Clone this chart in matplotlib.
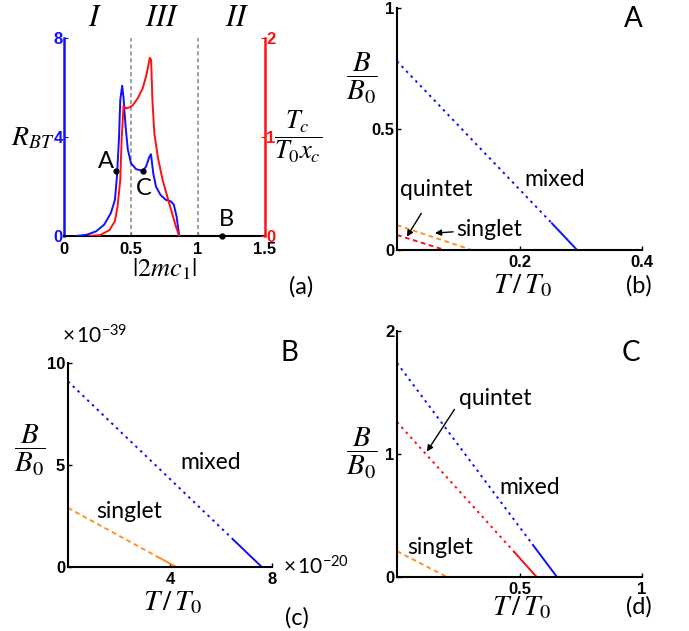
import numpy as np
import matplotlib
matplotlib.use("Agg")
import matplotlib.pyplot as plt

plt.rcParams['font.family'] = ['Lato', 'DejaVu Sans']
plt.rcParams['mathtext.fontset'] = 'stix'
plt.rcParams['lines.scale_dashes'] = False

BLUE = '#1010ff'
RED = '#ff1010'
ORANGE = '#ff9020'

# ---- panel (a) data ----
mc_blue = [0.09, 0.17, 0.24, 0.30, 0.35, 0.38, 0.395, 0.41, 0.42, 0.434, 0.444, 0.46, 0.476,
           0.50, 0.538, 0.587, 0.612, 0.637, 0.649, 0.666, 0.686, 0.72, 0.76, 0.797, 0.82,
           0.84, 0.86]
r_bt = [0.0, 0.05, 0.19, 0.46, 0.93, 1.46, 2.4, 3.9, 5.5, 6.07, 5.6, 4.4, 3.5,
        2.94, 2.7, 2.63, 2.8, 3.2, 3.3, 2.54, 2.0, 1.66, 1.46, 1.40, 1.26,
        0.79, 0.0]
mc_red = [0.19, 0.27, 0.34, 0.38, 0.40, 0.42, 0.43, 0.444, 0.464, 0.49, 0.513, 0.55, 0.587,
          0.612, 0.632, 0.64, 0.65, 0.66, 0.674, 0.70, 0.735, 0.785, 0.834, 0.86]
tc_ratio = [0.0, 0.01, 0.06, 0.15, 0.30, 0.57, 0.97, 1.31, 1.29, 1.30, 1.32, 1.39, 1.49,
            1.61, 1.74, 1.80, 1.78, 1.37, 1.04, 0.80, 0.57, 0.33, 0.10, 0.0]
region_bounds = [0.5, 1.0]
point_names = ['A', 'C', 'B']
point_x = [0.39, 0.587, 1.18]
point_y = [2.63, 2.63, 0.0]

# ---- panel (b): point A ----
b_mixed_T = [0, 0.253, 0.294]
b_mixed_B = [0.78, 0.11, 0.0]
b_singlet_T = [0, 0.122]
b_singlet_B = [0.103, 0.0]
b_quintet_T = [0, 0.078]
b_quintet_B = [0.062, 0.0]

# ---- panel (c): point B (T in 1e-2, B in 1e-39) ----
c_mixed_T = [0, 6.5, 7.6]
c_mixed_B = [9.1, 1.32, 0.0]
c_singlet_T = [0, 3.6, 4.25]
c_singlet_B = [2.9, 0.44, 0.0]

# ---- panel (d): point C ----
d_mixed_T = [0, 0.555, 0.653]
d_mixed_B = [1.74, 0.26, 0.0]
d_quintet_T = [0, 0.48, 0.57]
d_quintet_B = [1.26, 0.2, 0.0]
d_singlet_T = [0, 0.204]
d_singlet_B = [0.21, 0.0]

DOT = (0, (1.8, 3.0))
DASH = (0, (3.4, 2.6))
LBL = 16.5      # mixed / singlet / quintet
PANEL = 20      # A, B, C letters
TICK = 12

W, H = 689, 631
fig = plt.figure(figsize=(W / 100, H / 100), dpi=100)


def px_axes(x0, y0, x1, y1):
    return fig.add_axes([x0 / W, 1 - y1 / H, (x1 - x0) / W, (y1 - y0) / H])


def ftext(x, y, s, **kw):
    kw.setdefault('ha', 'center')
    kw.setdefault('va', 'center')
    fig.text(x / W, 1 - y / H, s, **kw)


def style_axes(ax, xt, xl, yt, yl):
    for s in ['top', 'right']:
        ax.spines[s].set_visible(False)
    for s in ['left', 'bottom']:
        ax.spines[s].set_linewidth(1.5)
    ax.set_xticks(xt)
    ax.set_xticklabels(xl, fontfamily='Liberation Sans', fontweight='bold', fontsize=TICK)
    ax.set_yticks(yt)
    ax.set_yticklabels(yl, fontfamily='Liberation Sans', fontweight='bold', fontsize=TICK)
    ax.tick_params(direction='in', length=3, width=1)
    ax.tick_params(axis='y', pad=2)


def piece(ax, T, B, color, ls):
    # dashed part up to the second-last point, solid for the last segment
    ax.plot(T[:-1], B[:-1], color=color, lw=1.4, ls=ls)
    ax.plot(T[-2:], B[-2:], color=color, lw=1.4)


# ================= (a) =================
ax = px_axes(64, 38, 265, 236)
ax2 = ax.twinx()
ax.plot(mc_blue, r_bt, color=BLUE, lw=1.4, zorder=3)
ax2.plot(mc_red, tc_ratio, color=RED, lw=1.4)
for xb in region_bounds:
    ax.axvline(xb, color='#888888', lw=1.1, ls=(0, (3, 2)))
ax.plot(point_x, point_y, 'o', color='black', ms=3.5, zorder=5, clip_on=False)
ax.text(0.31, 3.0, 'A', fontsize=17, ha='center', va='center')
ax.text(0.595, 1.9, 'C', fontsize=17, ha='center', va='center')
ax.text(1.21, 0.65, 'B', fontsize=17, ha='center', va='center')
ax.set_xlim(0, 1.5)
ax.set_ylim(0, 8)
ax2.set_ylim(0, 2)
for a in (ax, ax2):
    a.spines['top'].set_visible(False)
ax.spines['right'].set_visible(False)
ax2.spines['left'].set_visible(False)
ax2.spines['bottom'].set_visible(False)
ax.spines['left'].set_color(BLUE)
ax.spines['left'].set_linewidth(1.8)
ax.spines['bottom'].set_linewidth(1.5)
ax2.spines['right'].set_color(RED)
ax2.spines['right'].set_linewidth(1.8)
ax.set_xticks([0, 0.5, 1, 1.5])
ax.set_xticklabels(['0', '0.5', '1', '1.5'], fontfamily='Liberation Sans',
                   fontweight='bold', fontsize=TICK)
ax.set_yticks([0, 4, 8])
ax.set_yticklabels(['0', '4', '8'], fontfamily='Liberation Sans', fontweight='bold',
                   fontsize=TICK, color=BLUE)
ax2.set_yticks([0, 1, 2])
ax2.set_yticklabels(['0', '1', '2'], fontfamily='Liberation Sans', fontweight='bold',
                    fontsize=TICK, color=RED)
ax.tick_params(axis='y', direction='in', length=3, colors=BLUE, pad=1)
ax.tick_params(axis='x', direction='in', length=3, pad=4)
ax2.tick_params(axis='y', direction='in', length=3, colors=RED, pad=1)
ftext(95, 17, r'$I$', fontsize=22)
ftext(162, 17, r'$III$', fontsize=22)
ftext(237, 17, r'$II$', fontsize=22)
ftext(33, 138, r'$R_{BT}$', fontsize=20)
ftext(298, 137, r'$\dfrac{T_c}{T_0 x_c}$', fontsize=19)
ftext(165, 269, r'$|2mc_1|$', fontsize=19)
ftext(301, 287, '(a)', fontsize=17)

# ================= (b) =================
bx = px_axes(397, 8, 642, 250)
piece(bx, b_mixed_T, b_mixed_B, BLUE, DOT)
bx.plot(b_singlet_T, b_singlet_B, color=ORANGE, lw=1.4, ls=DASH)
bx.plot(b_quintet_T, b_quintet_B, color=RED, lw=1.4, ls=DASH)
bx.set_xlim(0, 0.4)
bx.set_ylim(0, 1)
style_axes(bx, [0.2, 0.4], ['0.2', '0.4'], [0, 0.5, 1], ['0', '0.5', '1'])
bx.text(0.258, 0.29, 'mixed', fontsize=LBL, ha='center', va='center')
bx.annotate('quintet', xy=(0.016, 0.055), xytext=(0.064, 0.25), fontsize=LBL,
            ha='center', va='center',
            arrowprops=dict(arrowstyle='-|>', color='black', lw=1, shrinkA=9, shrinkB=0,
                            mutation_scale=9))
bx.annotate('singlet', xy=(0.062, 0.07), xytext=(0.15, 0.085), fontsize=LBL,
            ha='center', va='center',
            arrowprops=dict(arrowstyle='-|>', color='black', lw=1, shrinkA=32, shrinkB=0,
                            mutation_scale=9))
bx.text(0.385, 0.955, 'A', fontsize=PANEL, ha='center', va='center')
ftext(523, 286, r'$T\,/\,T_0$', fontsize=21)
ftext(362, 78, r'$\dfrac{B}{B_0}$', fontsize=21)
ftext(639, 286, '(b)', fontsize=17)

# ================= (c) =================
cx = px_axes(68, 363, 272, 567)
piece(cx, c_mixed_T, c_mixed_B, BLUE, DOT)
piece(cx, c_singlet_T, c_singlet_B, ORANGE, DASH)
cx.set_xlim(0, 8)
cx.set_ylim(0, 10)
style_axes(cx, [4, 8], ['4', '8'], [0, 5, 10], ['0', '5', '10'])
cx.text(5.6, 5.1, 'mixed', fontsize=LBL, ha='center', va='center')
cx.text(2.4, 2.7, 'singlet', fontsize=LBL, ha='center', va='center')
cx.text(8.7, 10.5, 'B', fontsize=PANEL, ha='center', va='center')
ftext(62, 336, r'$\mathregular{\times\,10^{-39}}$', fontsize=15, ha='left')
ftext(283, 567, r'$\mathregular{\times\,10^{-20}}$', fontsize=15, ha='left')
ftext(173, 603, r'$T\,/\,T_0$', fontsize=21)
ftext(30, 450, r'$\dfrac{B}{B_0}$', fontsize=21)
ftext(297, 618, '(c)', fontsize=17)

# ================= (d) =================
dx = px_axes(397, 331, 642, 577)
piece(dx, d_mixed_T, d_mixed_B, BLUE, DOT)
piece(dx, d_quintet_T, d_quintet_B, RED, DOT)
dx.plot(d_singlet_T, d_singlet_B, color=ORANGE, lw=1.4, ls=DASH)
dx.set_xlim(0, 1)
dx.set_ylim(0, 2)
style_axes(dx, [0.5, 1], ['0.5', '1'], [0, 1, 2], ['0', '1', '2'])
dx.annotate('quintet', xy=(0.122, 1.02), xytext=(0.40, 1.45), fontsize=LBL,
            ha='center', va='center',
            arrowprops=dict(arrowstyle='-|>', color='black', lw=1, shrinkA=2, shrinkB=0,
                            mutation_scale=9, relpos=(0, 0.3)))
dx.text(0.54, 0.73, 'mixed', fontsize=LBL, ha='center', va='center')
dx.text(0.175, 0.24, 'singlet', fontsize=LBL, ha='center', va='center')
dx.text(0.955, 1.82, 'C', fontsize=PANEL, ha='center', va='center')
ftext(522, 608, r'$T\,/\,T_0$', fontsize=21)
ftext(362, 453, r'$\dfrac{B}{B_0}$', fontsize=21)
ftext(639, 607, '(d)', fontsize=17)

fig.savefig('out.png', dpi=100)
